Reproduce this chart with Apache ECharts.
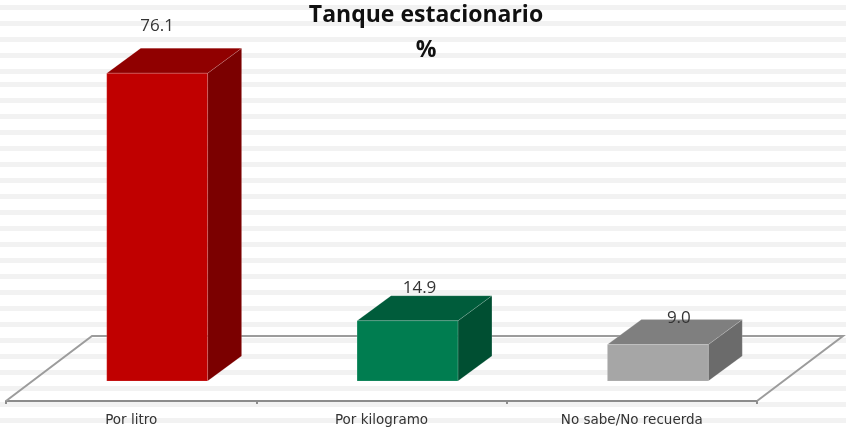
<!DOCTYPE html>
<html>
<head>
<meta charset="utf-8">
<style>
  html, body { margin: 0; padding: 0; background: #fff; }
  #chart { width: 846px; height: 433px; }
</style>
<script src="https://cdn.jsdelivr.net/npm/echarts@6/dist/echarts.min.js"></script>
</head>
<body>
<div id="chart"></div>
<script>
const categories = ['Por litro', 'Por kilogramo', 'No sabe/No recuerda']
const values = [76.1, 14.9, 9.0]
const valueLabels = ['76.1', '14.9', '9.0']

const faceColors = ['#c00000', '#007d50', '#a6a6a6']
const topColors = ['#900000', '#005c3b', '#7f7f7f']
const sideColors = ['#7b0000', '#004f32', '#6b6b6b']
// the labels were moved by hand in the original, so each has its own shift
const labelShiftX = [0, 12, 21]
const labelGapY = [22, 8, 1]

const stripeTops = [5, 21, 37, 53, 69]
for (let y = 82; y < 433; y += 16) stripeTops.push(y)

const floorShift = 20 // axis line sits below the bar bases
const depthX = 34
const depthY = 25
const floorDepthX = 86
const floorDepthY = 65
const barShift = 26

const chart = echarts.init(document.getElementById('chart'), null, { renderer: 'canvas' })

function renderFloor(params, api) {
  const g = params.coordSys
  const front = g.y + g.height + floorShift
  const left = g.x
  const right = g.x + g.width
  return {
    type: 'polyline',
    shape: {
      points: [
        [left, front],
        [left + floorDepthX, front - floorDepthY],
        [right + floorDepthX, front - floorDepthY],
        [right, front]
      ]
    },
    style: { fill: null, stroke: '#9c9c9c', lineWidth: 2 }
  }
}

function renderBar(params, api) {
  const i = api.value(0)
  const base = api.coord([i, 0])
  const top = api.coord([i, api.value(1)])
  const w = api.size([1, 0])[0] * 0.403
  const x0 = base[0] + barShift - w / 2
  const x1 = x0 + w
  const y0 = base[1]
  const y1 = top[1]
  const edge = { stroke: 'rgba(255,255,255,0.15)', lineWidth: 1 }
  return {
    type: 'group',
    children: [
      {
        type: 'polygon',
        shape: { points: [[x1, y1], [x1 + depthX, y1 - depthY], [x1 + depthX, y0 - depthY], [x1, y0]] },
        style: { fill: sideColors[i], ...edge }
      },
      {
        type: 'polygon',
        shape: { points: [[x0, y1], [x0 + depthX, y1 - depthY], [x1 + depthX, y1 - depthY], [x1, y1]] },
        style: { fill: topColors[i], ...edge }
      },
      {
        type: 'rect',
        shape: { x: x0, y: y1, width: w, height: y0 - y1 },
        style: { fill: faceColors[i], ...edge }
      },
      {
        type: 'text',
        style: {
          x: (x0 + x1) / 2 + labelShiftX[i],
          y: y1 - depthY - labelGapY[i],
          text: valueLabels[i],
          fill: '#333',
          font: '17px "Open Sans"',
          align: 'center',
          verticalAlign: 'middle'
        }
      }
    ]
  }
}

chart.setOption({
  animation: false,
  backgroundColor: '#fff',
  graphic: stripeTops.map(y => ({
    type: 'rect',
    silent: true,
    z: -10,
    shape: { x: 0, y: y, width: 846, height: 5 },
    style: { fill: '#f2f2f2' }
  })),
  title: {
    text: 'Tanque estacionario\n%',
    left: 426,
    top: -2,
    padding: 0,
    textAlign: 'center',
    textStyle: {
      fontFamily: 'Open Sans',
      fontWeight: 'bold',
      fontSize: 23,
      lineHeight: 35,
      color: '#111'
    }
  },
  grid: { left: 6, width: 751, top: 17, bottom: 52 },
  xAxis: {
    type: 'category',
    data: categories,
    offset: floorShift,
    axisLine: { onZero: false, lineStyle: { color: '#8c8c8c', width: 2 } },
    axisTick: { show: true, length: 3, lineStyle: { color: '#8c8c8c', width: 2 } },
    axisLabel: {
      color: '#333',
      fontFamily: 'DejaVu Sans',
      fontSize: 13.5,
      margin: 12,
      interval: 0
    }
  },
  yAxis: { type: 'value', min: 0, max: 90, show: false, splitLine: { show: false } },
  series: [
    {
      name: 'floor',
      type: 'custom',
      silent: true,
      z: 1,
      clip: false,
      renderItem: renderFloor,
      data: [[0, 0]]
    },
    {
      name: 'bars',
      type: 'custom',
      z: 2,
      clip: false,
      renderItem: renderBar,
      encode: { x: 0, y: 1 },
      data: values.map((v, i) => [i, v])
    }
  ]
})
</script>
</body>
</html>
